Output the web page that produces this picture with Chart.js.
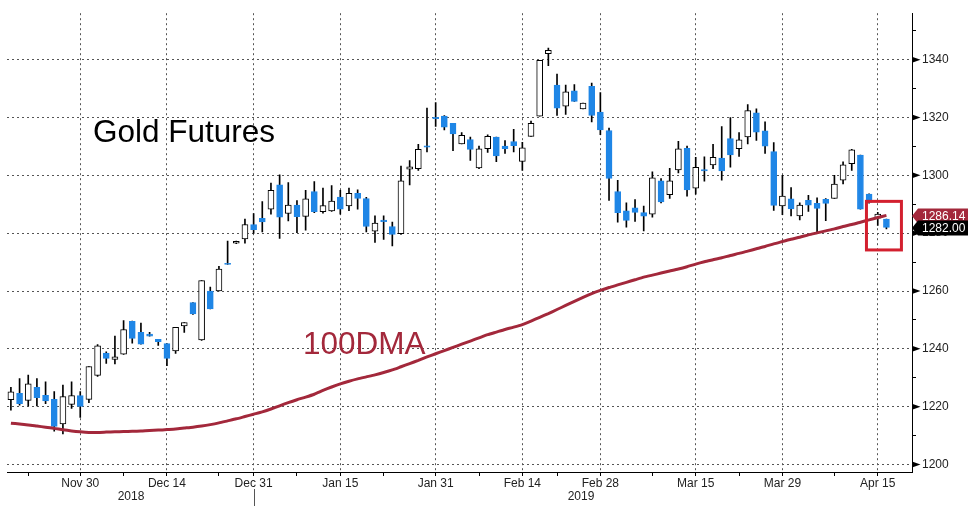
<!DOCTYPE html>
<html><head><meta charset="utf-8">
<script src="https://cdn.jsdelivr.net/npm/chart.js@4.4.1/dist/chart.umd.min.js"></script>
<style>html,body{margin:0;padding:0;background:#fff;} #wrap{width:976px;height:511px;position:relative;}</style>
</head><body><div id="wrap"><canvas id="c" width="976" height="511"></canvas></div>
<script>
// ---- data ----
const dates = ['Nov 19','Nov 20','Nov 21','Nov 23','Nov 26','Nov 27','Nov 28','Nov 29','Nov 30',
'Dec 3','Dec 4','Dec 5','Dec 6','Dec 7','Dec 10','Dec 11','Dec 12','Dec 13','Dec 14','Dec 17','Dec 18','Dec 19','Dec 20','Dec 21','Dec 24','Dec 26','Dec 27','Dec 28','Dec 31',
'Jan 2','Jan 3','Jan 4','Jan 7','Jan 8','Jan 9','Jan 10','Jan 11','Jan 14','Jan 15','Jan 16','Jan 17','Jan 18','Jan 22','Jan 23','Jan 24','Jan 25','Jan 28','Jan 29','Jan 30','Jan 31',
'Feb 1','Feb 4','Feb 5','Feb 6','Feb 7','Feb 8','Feb 11','Feb 12','Feb 13','Feb 14','Feb 15','Feb 19','Feb 20','Feb 21','Feb 22','Feb 25','Feb 26','Feb 27','Feb 28',
'Mar 1','Mar 4','Mar 5','Mar 6','Mar 7','Mar 8','Mar 11','Mar 12','Mar 13','Mar 14','Mar 15','Mar 18','Mar 19','Mar 20','Mar 21','Mar 22','Mar 25','Mar 26','Mar 27','Mar 28','Mar 29',
'Apr 1','Apr 2','Apr 3','Apr 4','Apr 5','Apr 8','Apr 9','Apr 10','Apr 11','Apr 12','Apr 15','Apr 16'];

const openP = [1222.4,1224.6,1222.2,1226.7,1223.9,1222.5,1214.0,1220.8,1223.8,
1222.5,1230.8,1238.5,1236.3,1238.2,1249.5,1245.7,1245.1,1243.3,1241.8,1239.3,1247.9,1256.0,1243.1,1260.0,1260.0,1269.6,1276.5,1278.0,1283.0,
1285.1,1288.3,1296.7,1286.8,1289.7,1285.8,1294.4,1287.4,1287.7,1292.5,1289.4,1293.8,1292.0,1280.7,1284.5,1282.3,1279.8,1302.1,1302.3,1310.2,1320.1,
1320.5,1318.0,1310.9,1312.4,1302.6,1309.2,1313.2,1310.1,1311.7,1304.8,1313.5,1320.5,1342.1,1331.2,1323.9,1329.2,1323.0,1330.8,1321.9,
1315.5,1294.4,1287.7,1288.8,1287.1,1286.6,1298.1,1293.3,1301.9,1309.3,1295.6,1302.0,1303.6,1306.0,1312.7,1309.2,1313.3,1321.6,1315.4,1308.2,1289.4,
1291.9,1286.0,1291.4,1290.3,1291.7,1292.0,1298.3,1304.0,1307.0,1293.5,1285.2,1284.9];

const highP = [1226.7,1229.7,1230.9,1229.7,1228.6,1225.2,1227.5,1228.6,1225.2,
1233.9,1241.5,1239.0,1244.4,1249.8,1249.6,1248.9,1245.7,1243.3,1241.8,1247.4,1249.1,1256.0,1263.6,1261.4,1268.5,1277.3,1277.3,1284.9,1286.8,
1290.9,1297.3,1300.2,1297.5,1291.3,1294.8,1297.8,1295.6,1296.5,1294.8,1295.6,1295.0,1292.4,1286.0,1286.0,1283.8,1303.2,1305.1,1310.7,1323.3,1325.2,
1320.7,1318.0,1314.8,1313.2,1310.1,1314.0,1313.2,1312.0,1315.9,1311.4,1318.8,1339.8,1344.0,1335.0,1331.2,1331.4,1325.0,1331.9,1328.6,
1316.3,1298.3,1290.5,1291.6,1289.4,1301.2,1298.9,1302.4,1311.8,1310.1,1306.2,1306.4,1310.7,1316.9,1320.0,1314.8,1324.5,1323.0,1318.5,1311.3,1300.0,
1295.8,1290.5,1293.1,1292.2,1292.0,1300.0,1304.7,1309.0,1307.0,1293.6,1287.2,1284.9];

const lowP = [1218.8,1220.5,1220.3,1220.3,1221.0,1211.5,1210.6,1219.4,1216.3,
1221.4,1230.5,1235.0,1234.8,1238.1,1242.0,1241.6,1244.4,1241.2,1234.2,1238.4,1245.7,1251.9,1242.9,1253.8,1260.0,1269.2,1276.4,1276.5,1279.9,
1280.4,1286.6,1278.2,1284.2,1280.2,1281.0,1287.1,1286.9,1287.5,1286.6,1287.8,1288.3,1280.4,1276.8,1277.8,1275.6,1279.6,1296.7,1301.7,1308.1,1316.9,
1315.7,1308.5,1310.9,1305.2,1302.3,1307.9,1304.7,1307.6,1308.1,1301.7,1313.5,1320.5,1337.9,1320.7,1321.1,1325.6,1323.0,1318.5,1314.1,
1291.3,1283.8,1282.1,1284.1,1280.8,1285.5,1290.5,1292.0,1300.8,1292.8,1293.5,1298.0,1302.3,1298.3,1302.8,1306.5,1310.9,1312.1,1307.6,1287.9,1286.4,
1286.0,1284.6,1287.5,1279.9,1284.3,1292.0,1297.0,1301.7,1288.3,1290.4,1282.7,1281.5];

const closeP = [1225.1,1221.0,1227.9,1223.1,1222.0,1213.2,1223.5,1223.8,1220.1,
1233.9,1241.0,1236.7,1237.2,1246.7,1243.6,1241.6,1244.4,1242.5,1236.7,1247.4,1249.1,1252.1,1263.6,1253.8,1267.6,1269.2,1277.2,1283.0,1281.2,
1283.9,1294.8,1285.5,1289.7,1285.7,1291.9,1287.4,1289.5,1291.1,1288.3,1293.8,1292.0,1282.3,1283.5,1284.0,1279.6,1298.1,1302.9,1309.0,1309.7,1319.6,
1316.7,1314.3,1313.8,1309.0,1309.2,1313.5,1306.7,1309.2,1310.3,1309.5,1318.0,1339.8,1343.2,1323.2,1328.9,1325.6,1325.0,1320.7,1315.7,
1298.9,1287.1,1284.4,1287.2,1285.9,1299.1,1290.8,1298.1,1309.2,1295.0,1302.8,1301.5,1306.2,1301.5,1307.1,1312.3,1322.4,1314.9,1310.1,1289.6,1292.8,
1288.4,1289.7,1289.7,1288.6,1290.3,1297.0,1303.6,1308.8,1288.3,1290.6,1286.6,1282.0];

const dma100 = [1214.3,1214.0,1213.7,1213.3,1212.9,1212.5,1212.0,1211.6,1211.3,1211.1,
1211.1,1211.2,1211.3,1211.4,1211.5,1211.6,1211.8,1211.9,1212.1,1212.3,
1212.6,1212.9,1213.3,1213.8,1214.4,1215.1,1215.8,1216.6,1217.4,1218.2,
1219.2,1220.3,1221.4,1222.4,1223.3,1224.3,1225.6,1226.8,1227.9,1228.8,
1229.6,1230.3,1231.0,1231.8,1232.7,1233.8,1234.9,1236.0,1237.2,1238.3,
1239.4,1240.5,1241.6,1242.7,1243.8,1244.9,1245.8,1246.7,1247.5,1248.4,
1249.6,1250.9,1252.2,1253.6,1255.0,1256.4,1257.8,1259.1,1260.2,1261.2,
1262.1,1263.0,1263.9,1264.8,1265.5,1266.2,1266.9,1267.6,1268.4,1269.3,
1270.1,1270.8,1271.5,1272.3,1273.0,1273.8,1274.6,1275.4,1276.3,1277.1,
1277.9,1278.6,1279.4,1280.1,1280.8,1281.5,1282.3,1283.0,1283.8,1284.6,
1285.4,1286.14];

const xMajorLabels = ['Nov 30','Dec 14','Dec 31','Jan 15','Jan 31','Feb 14','Feb 28','Mar 15','Mar 29','Apr 15'];
const xMinorLabels = ['Nov 21','Dec 7','Dec 24','Jan 8','Jan 23','Feb 7','Feb 21','Mar 8','Mar 22','Apr 8'];
const yTickValues = [1200,1210,1220,1230,1240,1250,1260,1270,1280,1290,1300,1310,1320,1330,1340,1350];
const yLabelStep = 20;
const yearLabels = ['2018','2019'];
const lastPrice = 1282.00;
const lastDma = 1286.14;
const chartTitle = 'Gold Futures';
const dmaLabel = '100DMA';

// ---- styling ----
const BLUE = '#1f86e6';
const DMA_RED = '#a3283b';
const GRID = '#555555';
const FONT = '"Liberation Sans", Arial, sans-serif';

const majorIdx = xMajorLabels.map(d => dates.indexOf(d));
const minorIdx = xMinorLabels.map(d => dates.indexOf(d));
const xTickIdx = majorIdx.concat(minorIdx).sort((a, b) => a - b);
const isUp = i => closeP[i] >= openP[i];

const wickData = dates.map((d, i) => ({x: i, y: [lowP[i], highP[i]]}));
const bodyData = dates.map((d, i) => ({x: i, y: [openP[i], closeP[i]]}));
const dmaData = dates.map((d, i) => ({x: i, y: dma100[i]}));

const overlay = {
  id: 'overlay',
  afterDraw(chart) {
    const {ctx, scales: {x, y}} = chart;
    ctx.save();
    // triangles on major y ticks
    ctx.fillStyle = '#000';
    yTickValues.filter(v => v % yLabelStep === 0).forEach(v => {
      const py = y.getPixelForValue(v);
      ctx.beginPath();
      ctx.moveTo(y.left, py - 3);
      ctx.lineTo(y.left + 8.5, py);
      ctx.lineTo(y.left, py + 3);
      ctx.closePath();
      ctx.fill();
    });
    // value tags
    const tag = (v, fill, text) => {
      const py = y.getPixelForValue(v) + 0.5;
      ctx.fillStyle = fill;
      ctx.beginPath();
      ctx.moveTo(y.left, py);
      ctx.lineTo(y.left + 6, py - 7.5);
      ctx.lineTo(y.left + 56, py - 7.5);
      ctx.lineTo(y.left + 56, py + 7.5);
      ctx.lineTo(y.left + 6, py + 7.5);
      ctx.closePath();
      ctx.fill();
      ctx.fillStyle = '#fff';
      ctx.font = '12px ' + FONT;
      ctx.textAlign = 'left';
      ctx.textBaseline = 'middle';
      ctx.fillText(text, y.left + 10, py + 0.5);
    };
    tag(lastDma, DMA_RED, lastDma.toFixed(2));
    tag(lastPrice, '#000', lastPrice.toFixed(2));

    // red highlight box
    const n = dates.length;
    const bx1 = x.getPixelForValue(n - 2) - 11.3;
    const bx2 = x.getPixelForValue(n - 1) + 15;
    const by1 = y.getPixelForValue(1291.0);
    const by2 = y.getPixelForValue(1274.2);
    ctx.strokeStyle = '#d3202f';
    ctx.lineWidth = 3;
    ctx.strokeRect(bx1, by1, bx2 - bx1, by2 - by1);

    // annotations
    ctx.fillStyle = '#000';
    ctx.font = '31.5px ' + FONT;
    ctx.textAlign = 'left';
    ctx.textBaseline = 'alphabetic';
    ctx.fillText(chartTitle, 93, 142);
    ctx.fillStyle = DMA_RED;
    ctx.fillText(dmaLabel, 303, 354);

    // year labels and separator
    ctx.fillStyle = '#222';
    ctx.font = '12px ' + FONT;
    ctx.textAlign = 'center';
    ctx.textBaseline = 'middle';
    ctx.fillText(yearLabels[0], 131, 497);
    ctx.fillText(yearLabels[1], 581, 497);
    ctx.strokeStyle = '#555';
    ctx.lineWidth = 1;
    const sx = Math.round(x.getPixelForValue(dates.indexOf('Dec 31'))) + 0.5;
    ctx.beginPath();
    ctx.moveTo(sx, 489);
    ctx.lineTo(sx, 506);
    ctx.stroke();
    ctx.restore();
  }
};

new Chart(document.getElementById('c'), {
  type: 'bar',
  data: {
    datasets: [
      {type: 'line', data: dmaData, borderColor: DMA_RED, borderWidth: 3, pointRadius: 0, tension: 0.2, order: 0},
      {data: bodyData, grouped: false, barThickness: 6, borderWidth: 1, borderSkipped: false,
       backgroundColor: c => isUp(c.dataIndex) ? '#ffffff' : BLUE,
       borderColor: c => isUp(c.dataIndex) ? '#000000' : BLUE, order: 1},
      {data: wickData, grouped: false, barThickness: 1, borderWidth: 0, backgroundColor: '#000', order: 2}
    ]
  },
  options: {
    responsive: false,
    animation: false,
    devicePixelRatio: 1,
    layout: {padding: {left: 7, right: 0, top: 0, bottom: 0}, autoPadding: false},
    plugins: {legend: {display: false}, tooltip: {enabled: false}},
    scales: {
      x: {
        type: 'linear', offset: false, min: -0.45, max: 103.95,
        afterBuildTicks: s => { s.ticks = xTickIdx.map(v => ({value: v})); },
        afterFit: s => { s.height = 39; },
        grid: {offset: false, lineWidth: 1, tickLength: 4, tickColor: '#000',
          color: c => (c.tick && majorIdx.includes(c.tick.value)) ? GRID : 'rgba(0,0,0,0)'},
        border: {display: true, color: '#000', width: 1, dash: [2, 3]},
        ticks: {autoSkip: false, maxRotation: 0, padding: 0, color: '#222', font: {family: FONT, size: 12},
          callback: v => majorIdx.includes(v) ? dates[v] : ''}
      },
      y: {
        position: 'right', min: 1197.41, max: 1356.07,
        afterBuildTicks: s => { s.ticks = yTickValues.map(v => ({value: v})); },
        afterFit: s => { s.width = 64; },
        grid: {lineWidth: 1, tickLength: 4, tickColor: '#000',
          color: c => (c.tick && c.tick.value % yLabelStep === 0) ? GRID : 'rgba(0,0,0,0)'},
        border: {display: true, color: '#000', width: 1, dash: [2, 3]},
        ticks: {autoSkip: false, padding: 6, color: '#222', font: {family: FONT, size: 12},
          callback: v => v % yLabelStep === 0 ? String(v) : ''}
      }
    }
  },
  plugins: [overlay]
});
</script>
</body></html>
